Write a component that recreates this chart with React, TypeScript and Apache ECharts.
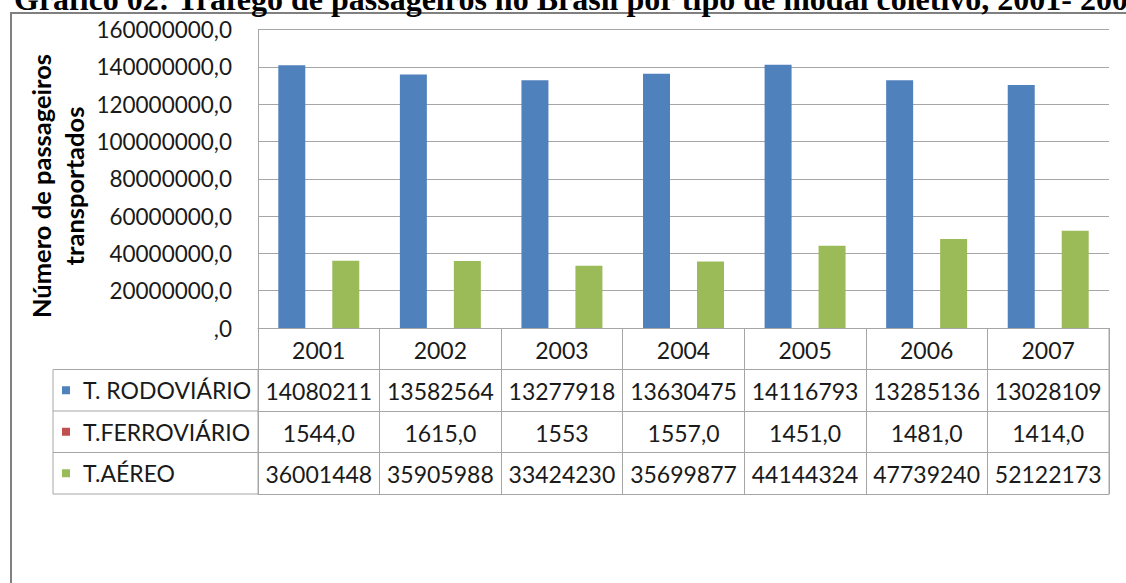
import React, { useEffect, useRef } from "react";
import * as echarts from "echarts";

const titleText =
  "Gráfico 02: Tráfego de passageiros no Brasil por tipo de modal coletivo, 2001- 2007";
const yAxisTitle = "Número de passageiros\ntransportados";
const years = ["2001", "2002", "2003", "2004", "2005", "2006", "2007"];
const seriesNames = ["T. RODOVIÁRIO", "T.FERROVIÁRIO", "T.AÉREO"];
const seriesColors = ["#4F81BD", "#C0504D", "#9BBB59"];
// bar heights
const rodoviarioValues = [140802110, 135825640, 132779180, 136304750, 141167930, 132851360, 130281090];
const ferroviarioValues = [1544, 1615, 1553, 1557, 1451, 1481, 1414];
const aereoValues = [36001448, 35905988, 33424230, 35699877, 44144324, 47739240, 52122173];
// data table texts as printed
const rodoviarioLabels = ["14080211", "13582564", "13277918", "13630475", "14116793", "13285136", "13028109"];
const ferroviarioLabels = ["1544,0", "1615,0", "1553", "1557,0", "1451,0", "1481,0", "1414,0"];
const aereoLabels = ["36001448", "35905988", "33424230", "35699877", "44144324", "47739240", "52122173"];
const yMin = 0;
const yMax = 160000000;
const yInterval = 20000000;

const FONT = "Lato, 'Open Sans', sans-serif";
const GRID_LEFT = 258;
const GRID_RIGHT_X = 1109;
const GRID_TOP = 29.5;
const GRID_BOTTOM_Y = 328;
const ROW_H = 41.5;
const TABLE_LEFT = 53;
const BORDER = "#a6a6a6";

export default function App() {
  const ref = useRef<HTMLDivElement>(null);
  useEffect(() => {
    if (!ref.current) return;
    const chart = echarts.init(ref.current, undefined, { renderer: "svg" });
    const tableRows = [years, rodoviarioLabels, ferroviarioLabels, aereoLabels, years];
    const xAxes = tableRows.map((row, k) => ({
      type: "category" as const,
      data: row,
      position: "bottom" as const,
      offset: k * ROW_H,
      boundaryGap: true,
      axisLine: { show: true, lineStyle: { color: BORDER, width: 1 } },
      axisTick: {
        show: k < 4,
        length: ROW_H,
        lineStyle: { color: BORDER, width: 1 },
      },
      axisLabel: {
        show: k < 4,
        interval: 0,
        margin: 10,
        fontFamily: FONT,
        fontSize: 23,
        color: "#1a1a1a",
      },
      splitLine: { show: false },
    }));
    const dataRows = [rodoviarioValues, ferroviarioValues, aereoValues];
    const tableBottom = GRID_BOTTOM_Y + 4 * ROW_H;
    const option = {
      animation: false,
      color: seriesColors,
      grid: {
        left: GRID_LEFT,
        right: 1126 - GRID_RIGHT_X,
        top: GRID_TOP,
        bottom: 583 - GRID_BOTTOM_Y,
        containLabel: false,
        outerBoundsMode: "none",
      },
      legend: {
        orient: "vertical",
        left: 62,
        top: GRID_BOTTOM_Y + ROW_H + ROW_H / 2 - 11.5,
        padding: 0,
        itemWidth: 8,
        itemHeight: 8,
        itemGap: ROW_H - 23,
        icon: "rect",
        selectedMode: false,
        data: seriesNames,
        textStyle: {
          fontFamily: FONT,
          fontSize: 23,
          lineHeight: 23,
          color: "#1a1a1a",
          padding: [0, 0, 0, 8],
        },
      },
      xAxis: xAxes,
      yAxis: {
        type: "value",
        min: yMin,
        max: yMax,
        interval: yInterval,
        axisLine: { show: true, lineStyle: { color: BORDER, width: 1 } },
        axisTick: { show: false },
        axisLabel: {
          margin: 26,
          fontFamily: FONT,
          fontSize: 22.5,
          color: "#1a1a1a",
          formatter: (v: number) => (v === 0 ? ",0" : `${v},0`),
        },
        splitLine: { show: true, lineStyle: { color: BORDER, width: 1 } },
      },
      series: seriesNames.map((name, i) => ({
        name,
        type: "bar",
        xAxisIndex: 0,
        data: dataRows[i],
        barGap: "0%",
        barCategoryGap: "33.4%",
        itemStyle: { color: seriesColors[i] },
      })),
      graphic: [
        {
          type: "rect",
          silent: true,
          shape: { x: 11, y: 13, width: 1300, height: 800 },
          style: { fill: "none", stroke: "#808080", lineWidth: 2 },
          z: 0,
        },
        {
          type: "text",
          silent: true,
          x: 14,
          y: 15,
          style: {
            text: titleText,
            font: "bold 32px 'Liberation Serif', 'Times New Roman', serif",
            fill: "#000",
            verticalAlign: "bottom",
          },
        },
        {
          type: "text",
          silent: true,
          x: 57,
          y: 186,
          rotation: Math.PI / 2,
          style: {
            text: yAxisTitle,
            fontFamily: FONT,
            fontWeight: "bold",
            fontSize: 25.5,
            lineHeight: 33,
            fill: "#000",
            align: "center",
            verticalAlign: "middle",
          },
        },
        {
          type: "rect",
          silent: true,
          shape: {
            x: TABLE_LEFT,
            y: GRID_BOTTOM_Y + ROW_H,
            width: GRID_LEFT - TABLE_LEFT,
            height: 3 * ROW_H,
          },
          style: { fill: "none", stroke: BORDER, lineWidth: 1 },
        },
        ...[2, 3].map((k) => ({
          type: "line",
          silent: true,
          shape: {
            x1: TABLE_LEFT,
            y1: GRID_BOTTOM_Y + k * ROW_H,
            x2: GRID_LEFT,
            y2: GRID_BOTTOM_Y + k * ROW_H,
          },
          style: { stroke: BORDER, lineWidth: 1 },
        })),
        {
          type: "line",
          silent: true,
          shape: { x1: GRID_RIGHT_X, y1: GRID_BOTTOM_Y, x2: GRID_RIGHT_X, y2: tableBottom },
          style: { stroke: BORDER, lineWidth: 1 },
        },
      ],
    };
    chart.setOption(option as any);
    return () => chart.dispose();
  }, []);
  return (
    <div
      ref={ref}
      style={{ position: "absolute", left: 0, top: 0, width: 1126, height: 583, background: "#fff" }}
    />
  );
}
